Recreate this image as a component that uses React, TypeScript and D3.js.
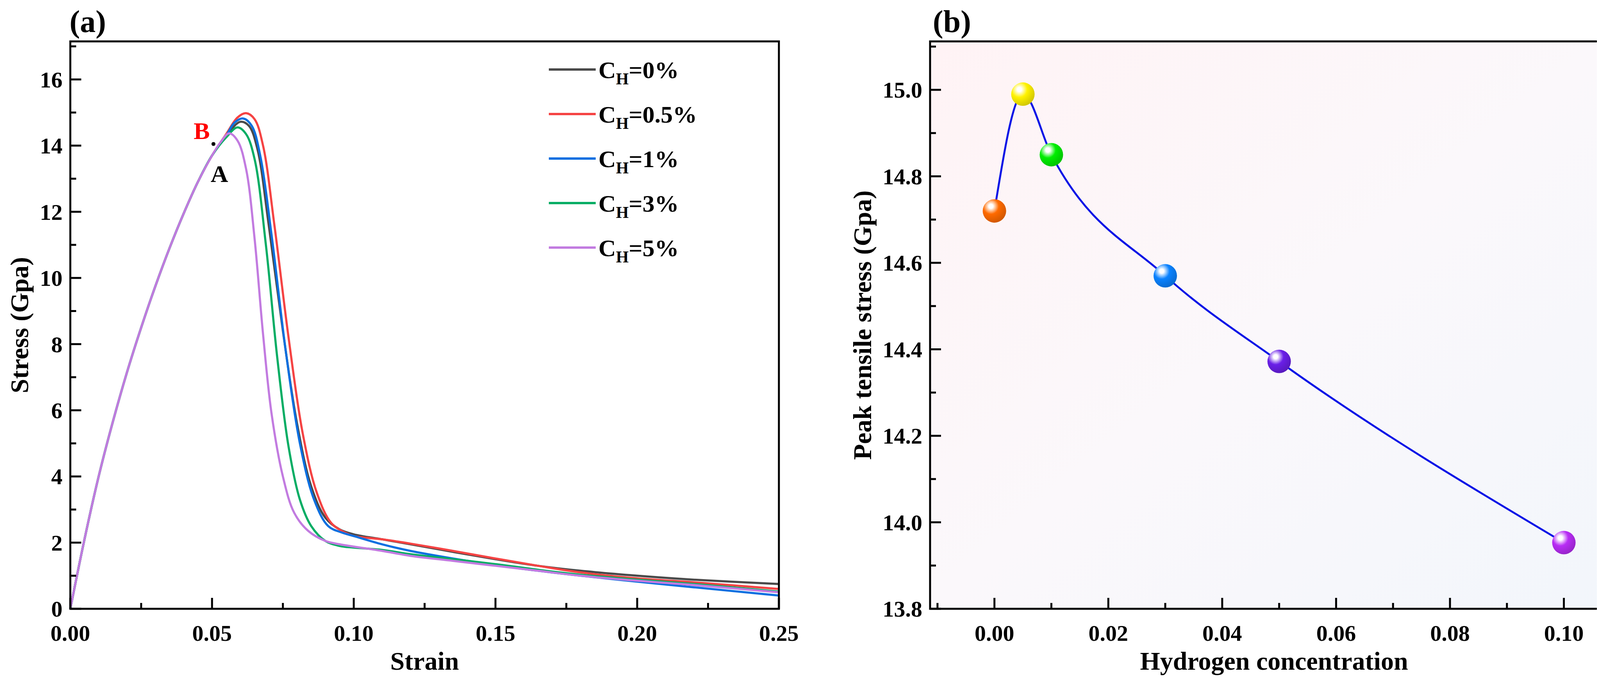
import React from "react";
import * as d3 from "d3";

// Panel (a): stress-strain curves, [strain, stress]
const SERIES_LABELS = ["0%", "0.5%", "1%", "3%", "5%"];
const SERIES_COLORS = ["#4a4a4a", "#f54343", "#0a6fe0", "#05ad64", "#c27be0"];
const RISE: [number, number][] = [
  [0, 0], [0.005, 2.1], [0.01, 4.0], [0.015, 5.65], [0.02, 7.15], [0.025, 8.5],
  [0.03, 9.75], [0.035, 10.9], [0.04, 11.95], [0.045, 12.9], [0.05, 13.7],
];
const CURVE_0: [number, number][] = [
  ...RISE, [0.055, 14.3], [0.06, 14.72], [0.063, 14.6], [0.066, 13.9], [0.07, 11.6],
  [0.075, 8.4], [0.08, 5.6], [0.085, 3.7], [0.09, 2.75], [0.095, 2.4], [0.1, 2.25],
  [0.11, 2.1], [0.12, 1.95], [0.135, 1.72], [0.15, 1.5], [0.165, 1.3], [0.18, 1.15],
  [0.2, 1.0], [0.22, 0.88], [0.25, 0.75],
];
const CURVE_05: [number, number][] = [
  ...RISE, [0.055, 14.35], [0.059, 14.85], [0.062, 14.98], [0.065, 14.8], [0.068, 14.0],
  [0.072, 11.6], [0.077, 8.2], [0.082, 5.3], [0.087, 3.5], [0.092, 2.6], [0.097, 2.3],
  [0.1, 2.2], [0.11, 2.1], [0.12, 1.97], [0.135, 1.75], [0.15, 1.52], [0.165, 1.3],
  [0.18, 1.1], [0.2, 0.92], [0.22, 0.8], [0.25, 0.6],
];
const CURVE_1: [number, number][] = [
  ...RISE, [0.055, 14.3], [0.058, 14.7], [0.061, 14.82], [0.064, 14.6], [0.067, 13.7],
  [0.071, 11.3], [0.076, 7.8], [0.081, 5.0], [0.086, 3.3], [0.091, 2.5], [0.096, 2.3],
  [0.1, 2.2], [0.11, 1.95], [0.12, 1.75], [0.135, 1.52], [0.15, 1.32], [0.165, 1.15],
  [0.18, 1.0], [0.2, 0.82], [0.22, 0.65], [0.25, 0.4],
];
const CURVE_3: [number, number][] = [
  ...RISE, [0.055, 14.25], [0.059, 14.55], [0.062, 14.35], [0.065, 13.6], [0.069, 11.0],
  [0.073, 7.6], [0.077, 4.9], [0.081, 3.3], [0.085, 2.5], [0.09, 2.05], [0.095, 1.9],
  [0.1, 1.85], [0.11, 1.78], [0.12, 1.65], [0.135, 1.5], [0.15, 1.35], [0.165, 1.18],
  [0.18, 1.03], [0.2, 0.88], [0.22, 0.75], [0.25, 0.52],
];
const CURVE_5: [number, number][] = [
  ...RISE, [0.053, 14.1], [0.056, 14.37], [0.059, 14.15], [0.062, 13.3], [0.065, 11.2],
  [0.068, 8.3], [0.071, 5.9], [0.075, 4.0], [0.079, 2.9], [0.084, 2.35], [0.09, 2.05],
  [0.095, 1.95], [0.1, 1.88], [0.11, 1.75], [0.12, 1.6], [0.135, 1.45], [0.15, 1.3],
  [0.165, 1.15], [0.18, 1.0], [0.2, 0.85], [0.22, 0.72], [0.25, 0.5],
];
const CURVES = [CURVE_0, CURVE_05, CURVE_1, CURVE_3, CURVE_5];
const A_X_TICKS = [0, 0.05, 0.1, 0.15, 0.2, 0.25];
const A_Y_TICKS = [0, 2, 4, 6, 8, 10, 12, 14, 16];

// Panel (b): peak tensile stress vs hydrogen concentration
const H_CONC = [0, 0.005, 0.01, 0.03, 0.05, 0.1];
const PEAK = [14.72, 14.99, 14.85, 14.57, 14.372, 13.953];
const BALL_COLORS = ["#ff6a00", "#fff200", "#00ee00", "#0a82ff", "#6a1fe8", "#b82cf5"];
const B_X_TICKS = [0, 0.02, 0.04, 0.06, 0.08, 0.1];
const B_Y_TICKS = [13.8, 14.0, 14.2, 14.4, 14.6, 14.8, 15.0];

const FONT = "'Liberation Serif', 'Times New Roman', serif";
const TOP = 106;
const BOTTOM = 1559;

function Frame({ x0, x1, xs, ys, xTicks, xMinor, yTicks, yMinor, xFmt, yFmt }: any) {
  return (
    <g fontFamily={FONT} fontWeight="bold">
      {xTicks.map((t: number) => (
        <g key={"xt" + t}>
          <line x1={xs(t)} x2={xs(t)} y1={BOTTOM} y2={BOTTOM - 28} stroke="#000" strokeWidth={5} />
          <text x={xs(t)} y={BOTTOM + 82} fontSize={58} textAnchor="middle">{xFmt(t)}</text>
        </g>
      ))}
      {xMinor.map((t: number) => (
        <line key={"xm" + t} x1={xs(t)} x2={xs(t)} y1={BOTTOM} y2={BOTTOM - 15} stroke="#000" strokeWidth={5} />
      ))}
      {yTicks.map((t: number) => (
        <g key={"yt" + t}>
          <line x1={x0} x2={x0 + 28} y1={ys(t)} y2={ys(t)} stroke="#000" strokeWidth={5} />
          <text x={x0 - 20} y={ys(t)} dy="0.35em" fontSize={58} textAnchor="end">{yFmt(t)}</text>
        </g>
      ))}
      {yMinor.map((t: number) => (
        <line key={"ym" + t} x1={x0} x2={x0 + 15} y1={ys(t)} y2={ys(t)} stroke="#000" strokeWidth={5} />
      ))}
      <rect x={x0} y={TOP} width={x1 - x0} height={BOTTOM - TOP} fill="none" stroke="#000" strokeWidth={5} />
    </g>
  );
}

export default function App() {
  // panel a
  const ax0 = 180, ax1 = 1994;
  const axs = d3.scaleLinear().domain([0, 0.25]).range([ax0, ax1]);
  const ays = d3.scaleLinear().domain([0, 17.15]).range([BOTTOM, TOP]);
  const aLine = d3.line<[number, number]>().x((d) => axs(d[0])).y((d) => ays(d[1])).curve(d3.curveCatmullRom.alpha(0.5));

  // panel b
  const bx0 = 2381, bx1 = 4142;
  const bxs = d3.scaleLinear().domain([-0.0113, 0.1095]).range([bx0, bx1]);
  const bys = d3.scaleLinear().domain([13.8, 15.112]).range([BOTTOM, TOP]);
  const bLine = d3.line<number>().x((d, i) => bxs(H_CONC[i])).y((d) => bys(d)).curve(d3.curveMonotoneX);

  const legendRows = [178, 292, 406, 520, 634];

  return (
    <svg width={4159} height={1790} style={{ display: "block", margin: -8 }}>
      <defs>
        <linearGradient id="bg" x1="0" y1="0" x2="1" y2="1">
          <stop offset="0" stopColor="#fff3f5" />
          <stop offset="0.5" stopColor="#fbf8fb" />
          <stop offset="1" stopColor="#f2f6fb" />
        </linearGradient>
        {BALL_COLORS.map((c, i) => (
          <radialGradient key={i} id={"ball" + i} cx="0.35" cy="0.3" r="0.75">
            <stop offset="0" stopColor="#ffffff" />
            <stop offset="0.12" stopColor="#ffffff" />
            <stop offset="0.45" stopColor={c} />
            <stop offset="1" stopColor={d3.color(c)!.darker(0.6).toString()} />
          </radialGradient>
        ))}
      </defs>
      <rect width={4159} height={1790} fill="#fff" />

      {/* (a) */}
      <text x={178} y={82} fontFamily={FONT} fontWeight="bold" fontSize={80}>(a)</text>
      {CURVES.map((c, i) => (
        <path key={i} d={aLine(c) || ""} fill="none" stroke={SERIES_COLORS[i]} strokeWidth={5.5} />
      ))}
      <Frame x0={ax0} x1={ax1} xs={axs} ys={ays} xTicks={A_X_TICKS}
        xMinor={[0.025, 0.075, 0.125, 0.175, 0.225]} yTicks={A_Y_TICKS}
        yMinor={[1, 3, 5, 7, 9, 11, 13, 15, 17]} xFmt={(t: number) => t.toFixed(2)} yFmt={(t: number) => String(t)} />
      <circle cx={axs(0.0505)} cy={ays(14.05)} r={5} fill="#000" />
      <text x={axs(0.0435)} y={ays(14.2)} fontFamily={FONT} fontWeight="bold" fontSize={62} fill="#ff0000">B</text>
      <text x={axs(0.0495)} y={ays(12.9)} fontFamily={FONT} fontWeight="bold" fontSize={62} fill="#000">A</text>
      {SERIES_LABELS.map((l, i) => (
        <g key={l} fontFamily={FONT} fontWeight="bold">
          <line x1={1405} x2={1525} y1={legendRows[i]} y2={legendRows[i]} stroke={SERIES_COLORS[i]} strokeWidth={6} />
          <text x={1532} y={legendRows[i]} dy="0.35em" fontSize={62}>
            C<tspan fontSize={42} dy={16}>H</tspan><tspan dy={-16}>={l}</tspan>
          </text>
        </g>
      ))}
      <text x={(ax0 + ax1) / 2} y={1715} textAnchor="middle" fontFamily={FONT} fontWeight="bold" fontSize={66}>Strain</text>
      <text transform={`translate(72,${(TOP + BOTTOM) / 2}) rotate(-90)`} textAnchor="middle" fontFamily={FONT} fontWeight="bold" fontSize={66}>Stress (Gpa)</text>

      {/* (b) */}
      <text x={2388} y={82} fontFamily={FONT} fontWeight="bold" fontSize={80}>(b)</text>
      <rect x={bx0} y={TOP} width={bx1 - bx0} height={BOTTOM - TOP} fill="url(#bg)" />
      <path d={bLine(PEAK) || ""} fill="none" stroke="#0a14e6" strokeWidth={5} />
      {PEAK.map((v, i) => (
        <circle key={i} cx={bxs(H_CONC[i])} cy={bys(v)} r={30} fill={`url(#ball${i})`} />
      ))}
      <Frame x0={bx0} x1={bx1} xs={bxs} ys={bys} xTicks={B_X_TICKS}
        xMinor={[-0.01, 0.01, 0.03, 0.05, 0.07, 0.09]} yTicks={B_Y_TICKS}
        yMinor={[13.9, 14.1, 14.3, 14.5, 14.7, 14.9, 15.1]} xFmt={(t: number) => t.toFixed(2)} yFmt={(t: number) => t.toFixed(1)} />
      <text x={(bx0 + bx1) / 2} y={1715} textAnchor="middle" fontFamily={FONT} fontWeight="bold" fontSize={66}>Hydrogen concentration</text>
      <text transform={`translate(2230,${(TOP + BOTTOM) / 2}) rotate(-90)`} textAnchor="middle" fontFamily={FONT} fontWeight="bold" fontSize={66}>Peak tensile stress (Gpa)</text>
    </svg>
  );
}
